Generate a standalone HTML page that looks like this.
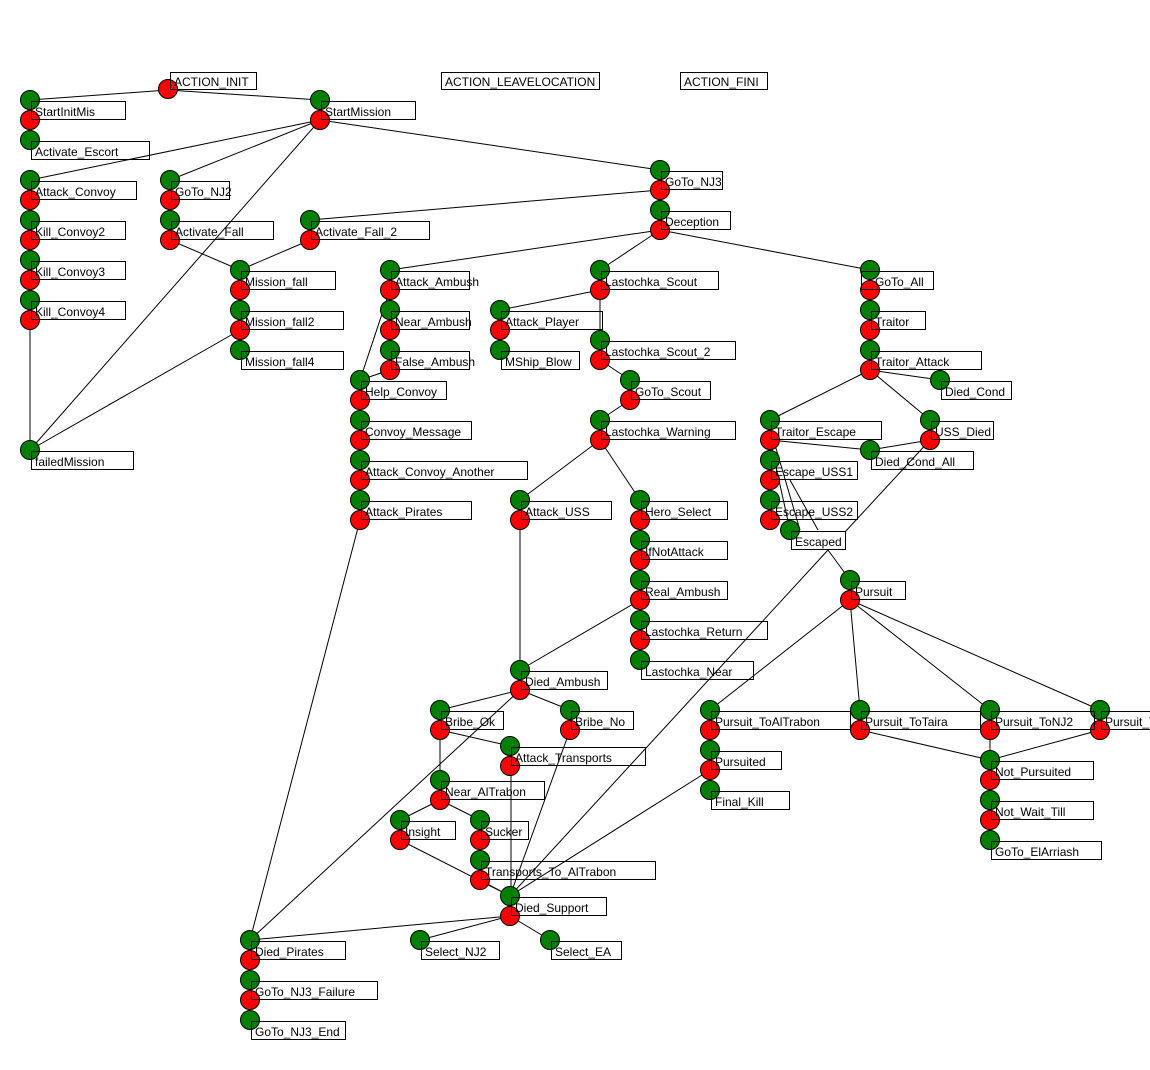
<!DOCTYPE html>
<html><head><meta charset="utf-8"><style>
html,body{margin:0;padding:0;background:#fff;}
svg{display:block}
text{font-family:"Liberation Sans",sans-serif;font-size:12px;fill:#000}
</style></head><body>
<svg width="1150" height="1070" viewBox="0 0 1150 1070" xmlns="http://www.w3.org/2000/svg">
<defs>
<g id="boxes">
<rect x="170.5" y="72.5" width="86" height="17"/>
<rect x="441.5" y="72.5" width="158" height="17"/>
<rect x="680.5" y="72.5" width="87" height="17"/>
<rect x="31.5" y="101.5" width="94" height="18"/>
<rect x="31.5" y="141.5" width="118" height="18"/>
<rect x="31.5" y="181.5" width="105" height="18"/>
<rect x="31.5" y="221.5" width="94" height="18"/>
<rect x="31.5" y="261.5" width="94" height="18"/>
<rect x="31.5" y="301.5" width="94" height="18"/>
<rect x="31.5" y="451.5" width="102" height="18"/>
<rect x="321.5" y="101.5" width="94" height="18"/>
<rect x="171.5" y="181.5" width="58" height="18"/>
<rect x="171.5" y="221.5" width="102" height="18"/>
<rect x="311.5" y="221.5" width="118" height="18"/>
<rect x="661.5" y="171.5" width="61" height="18"/>
<rect x="661.5" y="211.5" width="69" height="18"/>
<rect x="241.5" y="271.5" width="94" height="18"/>
<rect x="241.5" y="311.5" width="102" height="18"/>
<rect x="241.5" y="351.5" width="102" height="18"/>
<rect x="391.5" y="271.5" width="78" height="18"/>
<rect x="391.5" y="311.5" width="78" height="18"/>
<rect x="391.5" y="351.5" width="78" height="18"/>
<rect x="361.5" y="381.5" width="85" height="18"/>
<rect x="361.5" y="421.5" width="110" height="18"/>
<rect x="361.5" y="461.5" width="166" height="18"/>
<rect x="361.5" y="501.5" width="110" height="18"/>
<rect x="601.5" y="271.5" width="117" height="18"/>
<rect x="501.5" y="311.5" width="101" height="18"/>
<rect x="501.5" y="351.5" width="78" height="18"/>
<rect x="601.5" y="341.5" width="134" height="18"/>
<rect x="631.5" y="381.5" width="79" height="18"/>
<rect x="601.5" y="421.5" width="134" height="18"/>
<rect x="861.5" y="271.5" width="72" height="18"/>
<rect x="871.5" y="311.5" width="54" height="18"/>
<rect x="871.5" y="351.5" width="110" height="18"/>
<rect x="941.5" y="381.5" width="70" height="18"/>
<rect x="771.5" y="421.5" width="110" height="18"/>
<rect x="931.5" y="421.5" width="62" height="18"/>
<rect x="871.5" y="451.5" width="102" height="18"/>
<rect x="771.5" y="461.5" width="86" height="18"/>
<rect x="771.5" y="501.5" width="86" height="18"/>
<rect x="791.5" y="531.5" width="54" height="18"/>
<rect x="521.5" y="501.5" width="90" height="18"/>
<rect x="641.5" y="501.5" width="86" height="18"/>
<rect x="641.5" y="541.5" width="86" height="18"/>
<rect x="641.5" y="581.5" width="86" height="18"/>
<rect x="641.5" y="621.5" width="126" height="18"/>
<rect x="641.5" y="661.5" width="112" height="18"/>
<rect x="851.5" y="581.5" width="54" height="18"/>
<rect x="521.5" y="671.5" width="86" height="18"/>
<rect x="441.5" y="711.5" width="62" height="18"/>
<rect x="571.5" y="711.5" width="62" height="18"/>
<rect x="511.5" y="747.5" width="134" height="18"/>
<rect x="441.5" y="781.5" width="103" height="18"/>
<rect x="401.5" y="821.5" width="54" height="18"/>
<rect x="481.5" y="821.5" width="47" height="18"/>
<rect x="481.5" y="861.5" width="174" height="18"/>
<rect x="511.5" y="897.5" width="95" height="18"/>
<rect x="421.5" y="941.5" width="78" height="18"/>
<rect x="551.5" y="941.5" width="70" height="18"/>
<rect x="251.5" y="941.5" width="94" height="18"/>
<rect x="251.5" y="981.5" width="126" height="18"/>
<rect x="251.5" y="1021.5" width="94" height="18"/>
<rect x="711.5" y="711.5" width="139" height="18"/>
<rect x="861.5" y="711.5" width="119" height="18"/>
<rect x="991.5" y="711.5" width="103" height="18"/>
<rect x="1101.5" y="711.5" width="70" height="18"/>
<rect x="711.5" y="751.5" width="70" height="18"/>
<rect x="711.5" y="791.5" width="78" height="18"/>
<rect x="991.5" y="761.5" width="102" height="18"/>
<rect x="991.5" y="801.5" width="102" height="18"/>
<rect x="991.5" y="841.5" width="110" height="18"/>
</g>
</defs>
<use href="#boxes" fill="#fff" stroke="none"/>
<g stroke="#000" stroke-width="1" fill="none">
<path d="M168 90L30 100M168 90L320 100"/>
<path d="M30 100V140"/>
<path d="M320 120L30 180M320 120L170 180M320 120L30 450M320 120L660 170"/>
<path d="M30 180V300M30 320V450"/>
<path d="M170 180V220M170 240L240 270M310 240L240 270M240 270V350M240 330L30 450"/>
<path d="M660 190L310 220M660 190V210"/>
<path d="M660 230L390 270M660 230L600 270M660 230L870 270"/>
<path d="M390 270V350M390 290L360 380M390 370L360 380M360 380V500M360 520L250 940"/>
<path d="M600 290L500 310M500 310V350M600 290V340M600 360L630 380M630 400L600 420"/>
<path d="M600 440L520 500M600 440L640 500M640 500V660M520 520V670M640 600L520 670"/>
<path d="M870 270V350M870 370L940 380M870 370L770 420M870 370L930 420"/>
<path d="M770 440L870 450M930 440L870 450M770 420V500M770 440L790 530M775 445L800 530M790 480L818 530M930 440L845 532"/>
<path d="M828 550L850 580M828 550L510 896"/>
<path d="M850 600L710 710M850 600L860 710M850 600L990 710M850 600L1100 710"/>
<path d="M710 710V790M710 770L510 896"/>
<path d="M860 730L990 760M1100 730L990 760M990 710V840"/>
<path d="M520 690L440 710M520 690L570 710M520 690L250 940"/>
<path d="M440 730L510 746M440 730V780M570 730L510 896M511 766V896"/>
<path d="M440 800L400 820M440 800L480 820M400 840L510 896M480 820V860M480 880L510 896"/>
<path d="M510 916L250 940M510 916L420 940M510 916L550 940M250 940V1020"/>
</g>
<g stroke="#000" stroke-width="1">
<g fill="#ff0000">
<circle cx="168" cy="89" r="9.5"/>
<circle cx="30" cy="120" r="9.5"/>
<circle cx="30" cy="200" r="9.5"/><circle cx="30" cy="240" r="9.5"/><circle cx="30" cy="280" r="9.5"/><circle cx="30" cy="320" r="9.5"/>
<circle cx="320" cy="120" r="9.5"/>
<circle cx="170" cy="200" r="9.5"/><circle cx="170" cy="240" r="9.5"/><circle cx="310" cy="240" r="9.5"/>
<circle cx="660" cy="190" r="9.5"/><circle cx="660" cy="230" r="9.5"/>
<circle cx="240" cy="290" r="9.5"/><circle cx="240" cy="330" r="9.5"/>
<circle cx="390" cy="290" r="9.5"/><circle cx="390" cy="330" r="9.5"/><circle cx="390" cy="370" r="9.5"/>
<circle cx="360" cy="400" r="9.5"/><circle cx="360" cy="440" r="9.5"/><circle cx="360" cy="480" r="9.5"/><circle cx="360" cy="520" r="9.5"/>
<circle cx="600" cy="290" r="9.5"/><circle cx="500" cy="330" r="9.5"/><circle cx="600" cy="360" r="9.5"/><circle cx="630" cy="400" r="9.5"/><circle cx="600" cy="440" r="9.5"/>
<circle cx="870" cy="290" r="9.5"/><circle cx="870" cy="330" r="9.5"/><circle cx="870" cy="370" r="9.5"/>
<circle cx="770" cy="440" r="9.5"/><circle cx="930" cy="440" r="9.5"/><circle cx="770" cy="480" r="9.5"/><circle cx="770" cy="520" r="9.5"/>
<circle cx="520" cy="520" r="9.5"/><circle cx="640" cy="520" r="9.5"/><circle cx="640" cy="560" r="9.5"/><circle cx="640" cy="600" r="9.5"/><circle cx="640" cy="640" r="9.5"/>
<circle cx="850" cy="600" r="9.5"/>
<circle cx="520" cy="690" r="9.5"/><circle cx="440" cy="730" r="9.5"/><circle cx="570" cy="730" r="9.5"/><circle cx="510" cy="766" r="9.5"/>
<circle cx="440" cy="800" r="9.5"/><circle cx="400" cy="840" r="9.5"/><circle cx="480" cy="840" r="9.5"/><circle cx="480" cy="880" r="9.5"/>
<circle cx="510" cy="916" r="9.5"/>
<circle cx="250" cy="960" r="9.5"/><circle cx="250" cy="1000" r="9.5"/>
<circle cx="710" cy="730" r="9.5"/><circle cx="860" cy="730" r="9.5"/><circle cx="990" cy="730" r="9.5"/><circle cx="1100" cy="730" r="9.5"/>
<circle cx="710" cy="770" r="9.5"/><circle cx="990" cy="780" r="9.5"/><circle cx="990" cy="820" r="9.5"/>
</g>
<g fill="#008000">
<circle cx="30" cy="100" r="9.5"/><circle cx="30" cy="140" r="9.5"/><circle cx="30" cy="180" r="9.5"/><circle cx="30" cy="220" r="9.5"/><circle cx="30" cy="260" r="9.5"/><circle cx="30" cy="300" r="9.5"/><circle cx="30" cy="450" r="9.5"/>
<circle cx="320" cy="100" r="9.5"/><circle cx="170" cy="180" r="9.5"/><circle cx="170" cy="220" r="9.5"/><circle cx="310" cy="220" r="9.5"/>
<circle cx="660" cy="170" r="9.5"/><circle cx="660" cy="210" r="9.5"/>
<circle cx="240" cy="270" r="9.5"/><circle cx="240" cy="310" r="9.5"/><circle cx="240" cy="350" r="9.5"/>
<circle cx="390" cy="270" r="9.5"/><circle cx="390" cy="310" r="9.5"/><circle cx="390" cy="350" r="9.5"/>
<circle cx="360" cy="380" r="9.5"/><circle cx="360" cy="420" r="9.5"/><circle cx="360" cy="460" r="9.5"/><circle cx="360" cy="500" r="9.5"/>
<circle cx="600" cy="270" r="9.5"/><circle cx="500" cy="310" r="9.5"/><circle cx="500" cy="350" r="9.5"/><circle cx="600" cy="340" r="9.5"/><circle cx="630" cy="380" r="9.5"/><circle cx="600" cy="420" r="9.5"/>
<circle cx="870" cy="270" r="9.5"/><circle cx="870" cy="310" r="9.5"/><circle cx="870" cy="350" r="9.5"/><circle cx="940" cy="380" r="9.5"/>
<circle cx="770" cy="420" r="9.5"/><circle cx="930" cy="420" r="9.5"/><circle cx="870" cy="450" r="9.5"/><circle cx="770" cy="460" r="9.5"/><circle cx="770" cy="500" r="9.5"/><circle cx="790" cy="530" r="9.5"/>
<circle cx="520" cy="500" r="9.5"/><circle cx="640" cy="500" r="9.5"/><circle cx="640" cy="540" r="9.5"/><circle cx="640" cy="580" r="9.5"/><circle cx="640" cy="620" r="9.5"/><circle cx="640" cy="660" r="9.5"/>
<circle cx="850" cy="580" r="9.5"/>
<circle cx="520" cy="670" r="9.5"/><circle cx="440" cy="710" r="9.5"/><circle cx="570" cy="710" r="9.5"/><circle cx="510" cy="746" r="9.5"/>
<circle cx="440" cy="780" r="9.5"/><circle cx="400" cy="820" r="9.5"/><circle cx="480" cy="820" r="9.5"/><circle cx="480" cy="860" r="9.5"/>
<circle cx="510" cy="896" r="9.5"/><circle cx="420" cy="940" r="9.5"/><circle cx="550" cy="940" r="9.5"/>
<circle cx="250" cy="940" r="9.5"/><circle cx="250" cy="980" r="9.5"/><circle cx="250" cy="1020" r="9.5"/>
<circle cx="710" cy="710" r="9.5"/><circle cx="860" cy="710" r="9.5"/><circle cx="990" cy="710" r="9.5"/><circle cx="1100" cy="710" r="9.5"/>
<circle cx="710" cy="750" r="9.5"/><circle cx="710" cy="790" r="9.5"/>
<circle cx="990" cy="760" r="9.5"/><circle cx="990" cy="800" r="9.5"/><circle cx="990" cy="840" r="9.5"/>
</g>
</g>
<use href="#boxes" fill="none" stroke="#000" stroke-width="1"/>
<g>
<text x="174" y="86">ACTION_INIT</text>
<text x="445" y="86">ACTION_LEAVELOCATION</text>
<text x="684" y="86">ACTION_FINI</text>
<text x="35" y="116">StartInitMis</text>
<text x="35" y="156">Activate_Escort</text>
<text x="35" y="196">Attack_Convoy</text>
<text x="35" y="236">Kill_Convoy2</text>
<text x="35" y="276">Kill_Convoy3</text>
<text x="35" y="316">Kill_Convoy4</text>
<text x="35" y="466">failedMission</text>
<text x="325" y="116">StartMission</text>
<text x="175" y="196">GoTo_NJ2</text>
<text x="175" y="236">Activate_Fall</text>
<text x="315" y="236">Activate_Fall_2</text>
<text x="665" y="186">GoTo_NJ3</text>
<text x="665" y="226">Deception</text>
<text x="245" y="286">Mission_fall</text>
<text x="245" y="326">Mission_fall2</text>
<text x="245" y="366">Mission_fall4</text>
<text x="395" y="286">Attack_Ambush</text>
<text x="395" y="326">Near_Ambush</text>
<text x="395" y="366">False_Ambush</text>
<text x="365" y="396">Help_Convoy</text>
<text x="365" y="436">Convoy_Message</text>
<text x="365" y="476">Attack_Convoy_Another</text>
<text x="365" y="516">Attack_Pirates</text>
<text x="605" y="286">Lastochka_Scout</text>
<text x="505" y="326">Attack_Player</text>
<text x="505" y="366">MShip_Blow</text>
<text x="605" y="356">Lastochka_Scout_2</text>
<text x="635" y="396">GoTo_Scout</text>
<text x="605" y="436">Lastochka_Warning</text>
<text x="875" y="286">GoTo_All</text>
<text x="875" y="326">Traitor</text>
<text x="875" y="366">Traitor_Attack</text>
<text x="945" y="396">Died_Cond</text>
<text x="775" y="436">Traitor_Escape</text>
<text x="935" y="436">USS_Died</text>
<text x="875" y="466">Died_Cond_All</text>
<text x="775" y="476">Escape_USS1</text>
<text x="775" y="516">Escape_USS2</text>
<text x="795" y="546">Escaped</text>
<text x="525" y="516">Attack_USS</text>
<text x="645" y="516">Hero_Select</text>
<text x="645" y="556">IfNotAttack</text>
<text x="645" y="596">Real_Ambush</text>
<text x="645" y="636">Lastochka_Return</text>
<text x="645" y="676">Lastochka_Near</text>
<text x="855" y="596">Pursuit</text>
<text x="525" y="686">Died_Ambush</text>
<text x="445" y="726">Bribe_Ok</text>
<text x="575" y="726">Bribe_No</text>
<text x="515" y="762">Attack_Transports</text>
<text x="445" y="796">Near_AlTrabon</text>
<text x="405" y="836">Insight</text>
<text x="485" y="836">Sucker</text>
<text x="485" y="876">Transports_To_AlTrabon</text>
<text x="515" y="912">Died_Support</text>
<text x="425" y="956">Select_NJ2</text>
<text x="555" y="956">Select_EA</text>
<text x="255" y="956">Died_Pirates</text>
<text x="255" y="996">GoTo_NJ3_Failure</text>
<text x="255" y="1036">GoTo_NJ3_End</text>
<text x="715" y="726">Pursuit_ToAlTrabon</text>
<text x="865" y="726">Pursuit_ToTaira</text>
<text x="995" y="726">Pursuit_ToNJ2</text>
<text x="1105" y="726">Pursuit_T</text>
<text x="715" y="766">Pursuited</text>
<text x="715" y="806">Final_Kill</text>
<text x="995" y="776">Not_Pursuited</text>
<text x="995" y="816">Not_Wait_Till</text>
<text x="995" y="856">GoTo_ElArriash</text>
</g>
</svg>
</body></html>
